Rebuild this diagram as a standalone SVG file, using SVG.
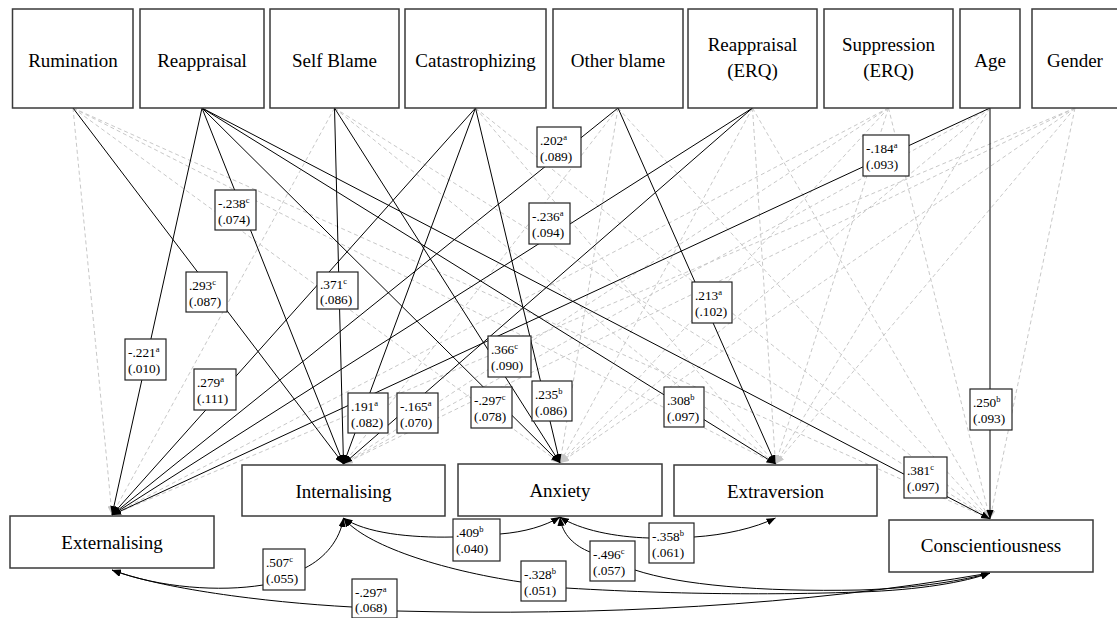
<svg xmlns="http://www.w3.org/2000/svg" width="1117" height="618" viewBox="0 0 1117 618" font-family="'Liberation Serif', 'DejaVu Serif', serif">
  <style>
    text { font-family: "Liberation Serif", "DejaVu Serif", serif; fill: #000; }
    .node rect { fill: #fff; stroke: #3a3a3a; stroke-width: 1.5; }
    .node text { font-size: 19px; text-anchor: middle; }
    .ns { stroke: #c8c8c8; stroke-width: 1; stroke-dasharray: 4 3; fill: none; marker-end: url(#headGrey); }
    .sig { stroke: #000; stroke-width: 1; fill: none; marker-end: url(#head); }
    .cov { stroke: #000; stroke-width: 1; fill: none; marker-start: url(#head); marker-end: url(#head); }
    .lbl rect { fill: #fff; stroke: #222; stroke-width: 1.2; }
    .lbl text { font-size: 13.3px; }
    .sup { font-size: 8.5px; }
  </style>
  <defs>
    <marker id="head" viewBox="0 0 10 8" refX="10" refY="4" markerWidth="9" markerHeight="7.2" markerUnits="userSpaceOnUse" orient="auto-start-reverse">
      <path d="M0,0 L10,4 L0,8 z" fill="#000"/>
    </marker>
    <marker id="headGrey" viewBox="0 0 10 8" refX="10" refY="4" markerWidth="9" markerHeight="7.2" markerUnits="userSpaceOnUse" orient="auto">
      <path d="M0,0 L10,4 L0,8 z" fill="#c8c8c8"/>
    </marker>
  </defs>

  <!-- connectors: non-significant (dashed), significant (solid), covariances (curved) -->
  <g id="connectors">
    <g id="nonsignificant">
      <!-- Rumination -->
      <line class="ns" x1="73" y1="108" x2="112" y2="515"/>
      <line class="ns" x1="73" y1="108" x2="560" y2="463"/>
      <line class="ns" x1="73" y1="108" x2="775.5" y2="464"/>
      <line class="ns" x1="73" y1="108" x2="990" y2="519"/>
      <!-- Self Blame -->
      <line class="ns" x1="334.5" y1="108" x2="112" y2="515"/>
      <line class="ns" x1="334.5" y1="108" x2="775.5" y2="464"/>
      <line class="ns" x1="334.5" y1="108" x2="990" y2="519"/>
      <!-- Catastrophizing -->
      <line class="ns" x1="475.5" y1="108" x2="775.5" y2="464"/>
      <line class="ns" x1="475.5" y1="108" x2="990" y2="519"/>
      <!-- Other blame -->
      <line class="ns" x1="618" y1="108" x2="343.5" y2="464"/>
      <line class="ns" x1="618" y1="108" x2="560" y2="463"/>
      <line class="ns" x1="618" y1="108" x2="990" y2="519"/>
      <!-- Reappraisal (ERQ) -->
      <line class="ns" x1="752.5" y1="108" x2="560" y2="463"/>
      <line class="ns" x1="752.5" y1="108" x2="775.5" y2="464"/>
      <line class="ns" x1="752.5" y1="108" x2="990" y2="519"/>
      <!-- Suppression (ERQ) -->
      <line class="ns" x1="888.5" y1="108" x2="112" y2="515"/>
      <line class="ns" x1="888.5" y1="108" x2="343.5" y2="464"/>
      <line class="ns" x1="888.5" y1="108" x2="560" y2="463"/>
      <line class="ns" x1="888.5" y1="108" x2="775.5" y2="464"/>
      <line class="ns" x1="888.5" y1="108" x2="990" y2="519"/>
      <!-- Age -->
      <line class="ns" x1="990" y1="108" x2="343.5" y2="464"/>
      <line class="ns" x1="990" y1="108" x2="560" y2="463"/>
      <line class="ns" x1="990" y1="108" x2="775.5" y2="464"/>
      <!-- Gender -->
      <line class="ns" x1="1075" y1="108" x2="112" y2="515"/>
      <line class="ns" x1="1075" y1="108" x2="343.5" y2="464"/>
      <line class="ns" x1="1075" y1="108" x2="560" y2="463"/>
      <line class="ns" x1="1075" y1="108" x2="775.5" y2="464"/>
      <line class="ns" x1="1075" y1="108" x2="990" y2="519"/>
    </g>
    <g id="significant">
      <line class="sig" x1="73" y1="108" x2="343.5" y2="464"/>
      <line class="sig" x1="202" y1="108" x2="112" y2="515"/>
      <line class="sig" x1="202" y1="108" x2="343.5" y2="464"/>
      <line class="sig" x1="202" y1="108" x2="560" y2="463"/>
      <line class="sig" x1="202" y1="108" x2="775.5" y2="464"/>
      <line class="sig" x1="202" y1="108" x2="990" y2="519"/>
      <line class="sig" x1="334.5" y1="108" x2="343.5" y2="464"/>
      <line class="sig" x1="334.5" y1="108" x2="560" y2="463"/>
      <line class="sig" x1="475.5" y1="108" x2="112" y2="515"/>
      <line class="sig" x1="475.5" y1="108" x2="343.5" y2="464"/>
      <line class="sig" x1="475.5" y1="108" x2="560" y2="463"/>
      <line class="sig" x1="618" y1="108" x2="112" y2="515"/>
      <line class="sig" x1="618" y1="108" x2="775.5" y2="464"/>
      <line class="sig" x1="752.5" y1="108" x2="112" y2="515"/>
      <line class="sig" x1="752.5" y1="108" x2="343.5" y2="464"/>
      <line class="sig" x1="990" y1="108" x2="112" y2="515"/>
      <line class="sig" x1="990" y1="108" x2="990" y2="519"/>
    </g>
    <g id="covariances">
      <path class="cov" d="M343.5,518 C365,533 410,538 453,537 L500,534 C525,532 545,526 560,517"/>
      <path class="cov" d="M560,517 C580,530 615,537 649,538 L694,537 C725,535 755,528 775.5,518"/>
      <path class="cov" d="M560,517 C562,535 575,546 590,552 L635,570 C680,585 760,592 860,590 C920,588 965,580 990,573"/>
      <path class="cov" d="M343.5,518 C340,540 325,558 305,568 L263,585 C220,592 160,588 112,570"/>
      <path class="cov" d="M343.5,518 C365,545 440,570 521,582 L566,588 C700,596 800,594 860,592 C920,590 965,582 990,573"/>
      <path class="cov" d="M112,570 C160,588 260,602 352,607 L397,611 C600,616 800,606 990,573"/>
    </g>
  </g>

  <!-- predictor nodes -->
  <g id="rumination" class="node"><rect x="12.5" y="9" width="120.5" height="99"/><text x="73" y="67">Rumination</text></g>
  <g id="reappraisal" class="node"><rect x="140" y="9" width="124" height="99"/><text x="202" y="67">Reappraisal</text></g>
  <g id="self-blame" class="node"><rect x="270" y="9" width="129" height="99"/><text x="334.5" y="67">Self Blame</text></g>
  <g id="catastrophizing" class="node"><rect x="405" y="9" width="141" height="99"/><text x="475.5" y="67">Catastrophizing</text></g>
  <g id="other-blame" class="node"><rect x="553" y="9" width="130" height="99"/><text x="618" y="67">Other blame</text></g>
  <g id="reappraisal-erq" class="node"><rect x="688" y="9" width="129" height="99"/><text x="752.5" y="51">Reappraisal</text><text x="752.5" y="77">(ERQ)</text></g>
  <g id="suppression-erq" class="node"><rect x="824" y="9" width="129" height="99"/><text x="888.5" y="51">Suppression</text><text x="888.5" y="77">(ERQ)</text></g>
  <g id="age" class="node"><rect x="960" y="9" width="60" height="99"/><text x="990" y="67">Age</text></g>
  <g id="gender" class="node"><rect x="1032" y="9" width="90" height="99"/><text x="1075" y="67">Gender</text></g>

  <!-- outcome nodes -->
  <g id="externalising" class="node"><rect x="10" y="516" width="204" height="52"/><text x="112" y="548.5">Externalising</text></g>
  <g id="internalising" class="node"><rect x="242" y="465" width="203" height="51"/><text x="343.5" y="498">Internalising</text></g>
  <g id="anxiety" class="node"><rect x="458" y="464" width="204" height="52"/><text x="560" y="497">Anxiety</text></g>
  <g id="extraversion" class="node"><rect x="674" y="465" width="203" height="51"/><text x="775.5" y="498">Extraversion</text></g>
  <g id="conscientiousness" class="node"><rect x="889" y="520" width="204" height="52"/><text x="991" y="552">Conscientiousness</text></g>

  <!-- coefficient labels -->
  <g id="labels">
    <g class="lbl"><rect x="215" y="190" width="41" height="40"/><text x="218" y="208">-.238<tspan class="sup" dy="-5">c</tspan></text><text x="218" y="223.5">(.074)</text></g>
    <g class="lbl"><rect x="186" y="272" width="41" height="40"/><text x="189" y="290">.293<tspan class="sup" dy="-5">c</tspan></text><text x="189" y="305.5">(.087)</text></g>
    <g class="lbl"><rect x="317" y="272" width="41" height="37"/><text x="320" y="289">.371<tspan class="sup" dy="-5">c</tspan></text><text x="320" y="304">(.086)</text></g>
    <g class="lbl"><rect x="537" y="127" width="44" height="40"/><text x="540" y="145">.202<tspan class="sup" dy="-5">a</tspan></text><text x="540" y="160.5">(.089)</text></g>
    <g class="lbl"><rect x="529" y="203" width="41" height="41"/><text x="532" y="221">-.236<tspan class="sup" dy="-5">a</tspan></text><text x="532" y="236.5">(.094)</text></g>
    <g class="lbl"><rect x="863" y="135" width="46" height="41"/><text x="866" y="153">-.184<tspan class="sup" dy="-5">a</tspan></text><text x="866" y="168.5">(.093)</text></g>
    <g class="lbl"><rect x="692" y="282" width="40" height="41"/><text x="695" y="300">.213<tspan class="sup" dy="-5">a</tspan></text><text x="695" y="315.5">(.102)</text></g>
    <g class="lbl"><rect x="125" y="339" width="41" height="41"/><text x="128" y="357">-.221<tspan class="sup" dy="-5">a</tspan></text><text x="128" y="372.5">(.010)</text></g>
    <g class="lbl"><rect x="194" y="369" width="42" height="41"/><text x="197" y="387">.279<tspan class="sup" dy="-5">a</tspan></text><text x="197" y="402.5">(.111)</text></g>
    <g class="lbl"><rect x="348" y="393" width="40" height="40"/><text x="351" y="411">.191<tspan class="sup" dy="-5">a</tspan></text><text x="351" y="426.5">(.082)</text></g>
    <g class="lbl"><rect x="397" y="393" width="41" height="40"/><text x="400" y="411">-.165<tspan class="sup" dy="-5">a</tspan></text><text x="400" y="426.5">(.070)</text></g>
    <g class="lbl"><rect x="488" y="336" width="43" height="41"/><text x="491" y="354">.366<tspan class="sup" dy="-5">c</tspan></text><text x="491" y="369.5">(.090)</text></g>
    <g class="lbl"><rect x="471" y="387" width="41" height="41"/><text x="474" y="405">-.297<tspan class="sup" dy="-5">c</tspan></text><text x="474" y="420.5">(.078)</text></g>
    <g class="lbl"><rect x="532" y="381" width="40" height="40"/><text x="535" y="399">.235<tspan class="sup" dy="-5">b</tspan></text><text x="535" y="414.5">(.086)</text></g>
    <g class="lbl"><rect x="664" y="387" width="40" height="40"/><text x="667" y="405">.308<tspan class="sup" dy="-5">b</tspan></text><text x="667" y="420.5">(.097)</text></g>
    <g class="lbl"><rect x="970" y="389" width="42" height="41"/><text x="973" y="407">.250<tspan class="sup" dy="-5">b</tspan></text><text x="973" y="422.5">(.093)</text></g>
    <g class="lbl"><rect x="904" y="457" width="43" height="41"/><text x="907" y="475">.381<tspan class="sup" dy="-5">c</tspan></text><text x="907" y="490.5">(.097)</text></g>
    <g class="lbl"><rect x="453" y="519" width="47" height="42"/><text x="456" y="537">.409<tspan class="sup" dy="-5">b</tspan></text><text x="456" y="553">(.040)</text></g>
    <g class="lbl"><rect x="649" y="523" width="45" height="40"/><text x="652" y="541">-.358<tspan class="sup" dy="-5">b</tspan></text><text x="652" y="556.5">(.061)</text></g>
    <g class="lbl"><rect x="590" y="541" width="45" height="40"/><text x="593" y="559">-.496<tspan class="sup" dy="-5">c</tspan></text><text x="593" y="574.5">(.057)</text></g>
    <g class="lbl"><rect x="263" y="549" width="42" height="41"/><text x="266" y="567">.507<tspan class="sup" dy="-5">c</tspan></text><text x="266" y="582.5">(.055)</text></g>
    <g class="lbl"><rect x="521" y="561" width="45" height="40"/><text x="524" y="579">-.328<tspan class="sup" dy="-5">b</tspan></text><text x="524" y="594.5">(.051)</text></g>
    <g class="lbl"><rect x="352" y="579" width="45" height="39"/><text x="355" y="597">-.297<tspan class="sup" dy="-5">a</tspan></text><text x="355" y="612">(.068)</text></g>
  </g>
</svg>
